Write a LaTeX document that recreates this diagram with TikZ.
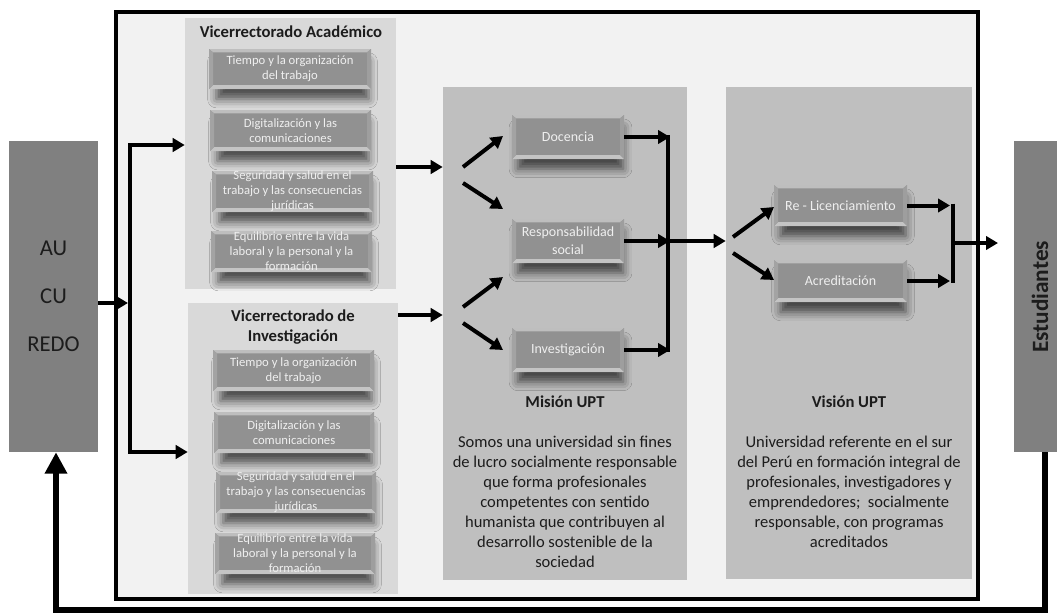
\documentclass[tikz,border=0pt]{standalone}
\usepackage{fontspec}
\setmainfont{Carlito}
\usetikzlibrary{arrows.meta,fit,shadows.blur}
\definecolor{bgout}{HTML}{F2F2F2}
\definecolor{panelA}{HTML}{D9D9D9}
\definecolor{panelM}{HTML}{BFBFBF}
\definecolor{sidebox}{HTML}{808080}
\definecolor{bevface}{HTML}{919191}
\definecolor{bevtop}{HTML}{BEBEBE}
\definecolor{bevbot}{HTML}{C4C4C4}
\definecolor{bevleft}{HTML}{A3A3A3}
\definecolor{bevright}{HTML}{9E9E9E}
\definecolor{bevtext}{HTML}{EFEFEF}
\definecolor{ink}{HTML}{1C1C1C}
% node placed by its corners (pixel coordinates)
\newcommand\placebox[6]{\node[#1,minimum width={(#4-#2)*0.75pt},minimum height={(#5-#3)*0.75pt}] (#6) at ({(#2+#4)/2},{(#3+#5)/2})}
\begin{document}
\begin{tikzpicture}[x=0.75pt,y=-0.75pt,
  arr/.style={line width=3pt,-{Triangle[length=9pt,width=10pt]}},
  ln/.style={line width=3pt},
  fb/.style={line width=5pt,-{Triangle[length=16pt,width=16pt]}},
  outerbox/.style={draw=black,line width=3pt,fill=bgout,inner sep=0pt},
  side/.style={fill=sidebox,inner sep=0pt,text=ink},
  panA/.style={fill=panelA,inner sep=0pt},
  panM/.style={fill=panelM,inner sep=0pt},
  ttl/.style={font=\bfseries\fontsize{12.5}{15}\selectfont,text=ink,align=center,inner sep=0pt},
  para/.style={font=\fontsize{12.4}{15}\selectfont,text=ink,align=center,inner sep=0pt},
  bev/.style={inner sep=0pt,fill=bevface,text=bevtext,align=center,
    blur shadow={shadow xshift=2pt,shadow yshift=-9pt,shadow blur radius=7pt,shadow opacity=65,shadow scale=0.94},
    path picture={
      \fill[bevtop] (path picture bounding box.north west) -- (path picture bounding box.north east)
        -- ([shift={(-3pt,-2.5pt)}]path picture bounding box.north east) -- ([shift={(3pt,-2.5pt)}]path picture bounding box.north west) -- cycle;
      \fill[bevbot] (path picture bounding box.south west) -- (path picture bounding box.south east)
        -- ([shift={(-3pt,3pt)}]path picture bounding box.south east) -- ([shift={(3pt,3pt)}]path picture bounding box.south west) -- cycle;
      \fill[bevleft] (path picture bounding box.south west) -- (path picture bounding box.north west)
        -- ([shift={(3pt,-2.5pt)}]path picture bounding box.north west) -- ([shift={(3pt,3pt)}]path picture bounding box.south west) -- cycle;
      \fill[bevright] (path picture bounding box.south east) -- (path picture bounding box.north east)
        -- ([shift={(-3pt,-2.5pt)}]path picture bounding box.north east) -- ([shift={(-3pt,3pt)}]path picture bounding box.south east) -- cycle;
    }},
  bevs/.style={bev,font=\fontsize{9.5}{11.2}\selectfont},
  bevm/.style={bev,font=\fontsize{10.5}{13.5}\selectfont},
]
\useasboundingbox (0,0) rectangle (1057,614);
\fill[white] (0,0) rectangle (1057,614);

% outer frame
\node[outerbox,fit={(116,12)(978,599)}] (OUT) {};

% side boxes
\placebox{side,align=center,font=\fontsize{17}{36}\selectfont}{9}{141}{98}{452}{AU} {AU\\CU\\REDO};
\placebox{side}{1014}{141}{1057}{452}{EST} {};
\node[rotate=90,font=\bfseries\fontsize{17.5}{20}\selectfont,text=ink,inner sep=0pt] (ESTt) at (1040,297) {Estudiantes};

% panels
\node[panA,fit={(185,18)(396,289)}] (VA) {};
\node[ttl] (VAt) at (291,32) {Vicerrectorado Académico};
\node[panA,fit={(188,303)(398,594)}] (VI) {};
\node[ttl] (VIt) at (293,327) {Vicerrectorado de\\Investigación};
\node[panM,fit={(443,87)(687,580)}] (MI) {};
\node[ttl] (MIt) at (565,402) {Misión UPT};
\node[para] (MIp) at (565,502) {Somos una universidad sin fines\\de lucro socialmente responsable\\que forma profesionales\\competentes con sentido\\humanista que contribuyen al\\desarrollo sostenible de la\\sociedad};
\node[panM,fit={(726,87)(972,579)}] (VS) {};
\node[ttl] (VSt) at (849,402) {Visión UPT};
\node[para] (VSp) at (849,492) {Universidad referente en el sur\\del Perú en formación integral de\\profesionales, investigadores y\\emprendedores;\ \ socialmente\\responsable, con programas\\acreditados};

% bevel boxes, academic
\placebox{bevs}{209}{49}{371}{89}{A1} {Tiempo y la organización\\del trabajo};
\placebox{bevs}{210}{110}{371}{151}{A2} {Digitalización y las\\comunicaciones};
\placebox{bevs}{212}{171}{373}{212}{A3} {Seguridad y salud en el\\trabajo y las consecuencias\\jurídicas};
\placebox{bevs}{211}{231}{372}{272}{A4} {Equilibrio entre la vida\\laboral y la personal y la\\formación};
% bevel boxes, research
\placebox{bevs}{213}{350}{374}{391}{B1} {Tiempo y la organización\\del trabajo};
\placebox{bevs}{214}{412}{374}{453}{B2} {Digitalización y las\\comunicaciones};
\placebox{bevs}{216}{472}{376}{513}{B3} {Seguridad y salud en el\\trabajo y las consecuencias\\jurídicas};
\placebox{bevs}{215}{533}{375}{574}{B4} {Equilibrio entre la vida\\laboral y la personal y la\\formación};
% mission boxes
\placebox{bevm}{512}{115}{624}{159}{DOC} {Docencia};
\placebox{bevm}{512}{219}{624}{263}{RES} {Responsabilidad\\social};
\placebox{bevm}{512}{328}{624}{372}{INV} {Investigación};
% vision boxes
\placebox{bevm}{774}{185}{907}{226}{REL} {Re - Licenciamiento};
\placebox{bevm}{774}{260}{907}{302}{ACR} {Acreditación};

% left distribution
\coordinate (jM) at (130,303);
\coordinate (jL) at (128,303);
\coordinate (jT) at (130,145);
\coordinate (jB) at (130,452);
\draw[arr] (AU.east |- jL) -- (jL);
\draw[arr] (jM) -- (jT) -- (VA.west |- jT);
\draw[arr] (jM) -- (jB) -- (VI.west |- jB);

% panels to mission
\coordinate (pA) at (397,167);
\coordinate (pI) at (398,315);
\draw[arr] (VA.east |- pA) -- (MI.west |- pA);
\draw[arr] (VI.east |- pI) -- (MI.west |- pI);

% mission fans
\coordinate (m1s) at (463,167); \coordinate (m1e) at (503,136);
\coordinate (m2s) at (463,183); \coordinate (m2e) at (503,209);
\coordinate (m3s) at (463,307); \coordinate (m3e) at (503,277);
\coordinate (m4s) at (463,323); \coordinate (m4e) at (503,350);
\draw[arr] (m1s) -- (m1e);
\draw[arr] (m2s) -- (m2e);
\draw[arr] (m3s) -- (m3e);
\draw[arr] (m4s) -- (m4e);

% mission collector
\coordinate (mx) at (670,0);
\coordinate (mv) at (668,0);
\draw[arr] (DOC.east) -- (DOC.east -| mx);
\draw[arr] (RES.east) -- (RES.east -| mx);
\draw[arr] (INV.east) -- (INV.east -| mx);
\draw[ln] ([yshift=1.5pt]DOC.east -| mv) -- ([yshift=-1.5pt]INV.east -| mv);
\draw[arr] (RES.east -| mv) -- (VS.west |- RES.east);

% vision fans
\coordinate (v1s) at (733,237); \coordinate (v1e) at (774,207);
\coordinate (v2s) at (733,253); \coordinate (v2e) at (774,280);
\draw[arr] (v1s) -- (v1e);
\draw[arr] (v2s) -- (v2e);

% vision collector
\coordinate (vx) at (950,0);
\coordinate (vv) at (953,0);
\draw[arr] (REL.east) -- (REL.east -| vx);
\draw[arr] (ACR.east) -- (ACR.east -| vx);
\draw[ln] ([yshift=1.5pt]REL.east -| vv) -- ([yshift=-1.5pt]ACR.east -| vv);
\coordinate (vo) at (953,243);
\coordinate (vt) at (998,243);
\draw[arr] (vo) -- (vt);

% feedback loop
\coordinate (f1) at (1045,610);
\coordinate (f2) at (56,610);
\draw[fb] (EST.south -| f1) -- (f1) -- (f2) -- (AU.south -| f2);
\end{tikzpicture}
\end{document}
